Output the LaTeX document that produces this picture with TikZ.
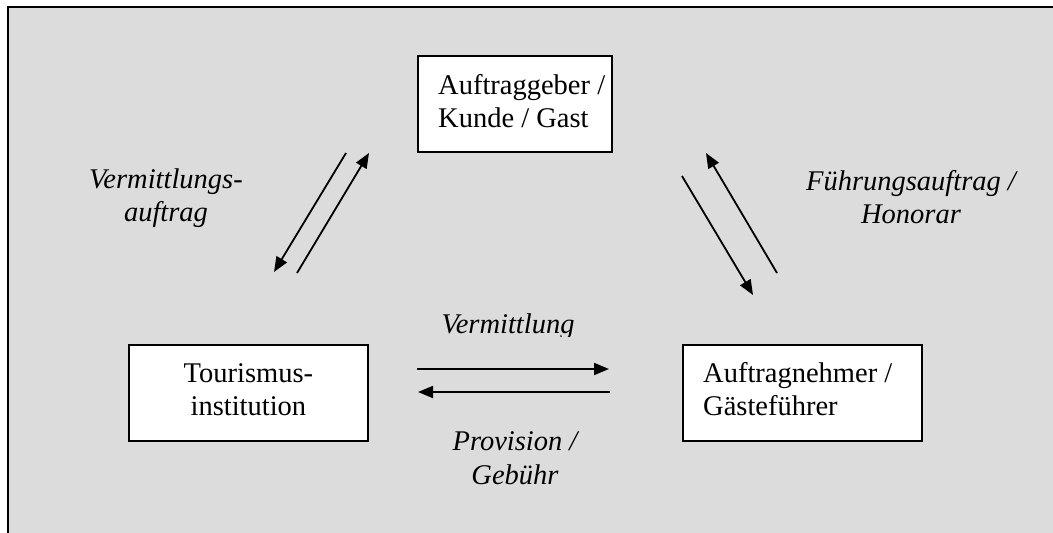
\documentclass[tikz,border=0pt]{standalone}
\usepackage{fontspec}
\setmainfont{Liberation Serif}
\usetikzlibrary{arrows.meta}
\definecolor{bg}{RGB}{220,220,220}
\begin{document}
\begin{tikzpicture}[x=1pt,y=-1pt,
  box/.style={draw=black,line width=1.8pt,fill=white,inner sep=0pt,anchor=north west,minimum height=96pt},
  txt/.style={font=\fontsize{28.5}{33}\selectfont,inner sep=0pt},
  itxt/.style={font=\fontsize{28.5}{33}\selectfont\itshape,inner sep=0pt,anchor=base},
  arr/.style={line width=1.8pt,-{Triangle[length=15pt,width=12pt]}}
]
\useasboundingbox (0,0) rectangle (1053,533);
\clip (0,0) rectangle (1053,533);
\draw[line width=2pt,fill=bg] (8,7) rectangle (1080,560);

% boxes
\node[box,minimum width=194pt] (kunde) at (417,55) {};
\node[box,minimum width=239pt] (inst) at (128,344) {};
\node[box,minimum width=239pt] (fuehrer) at (682,344) {};

% box texts
\node[txt,anchor=base west] (kunde1) at ([shift={(21,39)}]kunde.north west) {Auftraggeber /};
\node[txt,anchor=base west] (kunde2) at ([shift={(21,72)}]kunde.north west) {Kunde / Gast};
\node[txt,anchor=base] (inst1) at ([shift={(0,38)}]inst.north) {Tourismus-};
\node[txt,anchor=base] (inst2) at ([shift={(0,71)}]inst.north) {institution};
\node[txt,anchor=base west] (fuehrer1) at ([shift={(21,38)}]fuehrer.north west) {Auftragnehmer /};
\node[txt,anchor=base west] (fuehrer2) at ([shift={(21,71)}]fuehrer.north west) {Gästeführer};

% labels
\node[itxt] (l1a) at (166,188) {Vermittlungs-};
\node[itxt] (l1b) at (166,221) {auftrag};
\node[itxt] (l2a) at (911,190) {Führungsauftrag /};
\node[itxt] (l2b) at (911,223) {Honorar};
\begin{scope}
  \clip (400,290) rectangle (640,336);
  \node[itxt] (l3) at (508,333) {Vermittlung};
\end{scope}
\node[itxt] (l4a) at (515,450) {Provision /};
\node[itxt] (l4b) at (515,484) {Gebühr};

% connectors
\coordinate (a1s) at (346,153); \coordinate (a1e) at (274,272);
\coordinate (a2s) at (297,273); \coordinate (a2e) at (369,153);
\coordinate (b1s) at (682,176); \coordinate (b1e) at (753,295);
\coordinate (b2s) at (777,273); \coordinate (b2e) at (706,153);
\coordinate (c1s) at (417,369); \coordinate (c1e) at (609,369);
\coordinate (c2s) at (610,392); \coordinate (c2e) at (418,392);
\draw[arr] (a1s) -- (a1e);
\draw[arr] (a2s) -- (a2e);
\draw[arr] (b1s) -- (b1e);
\draw[arr] (b2s) -- (b2e);
\draw[arr] (c1s) -- (c1e);
\draw[arr] (c2s) -- (c2e);
\end{tikzpicture}
\end{document}
